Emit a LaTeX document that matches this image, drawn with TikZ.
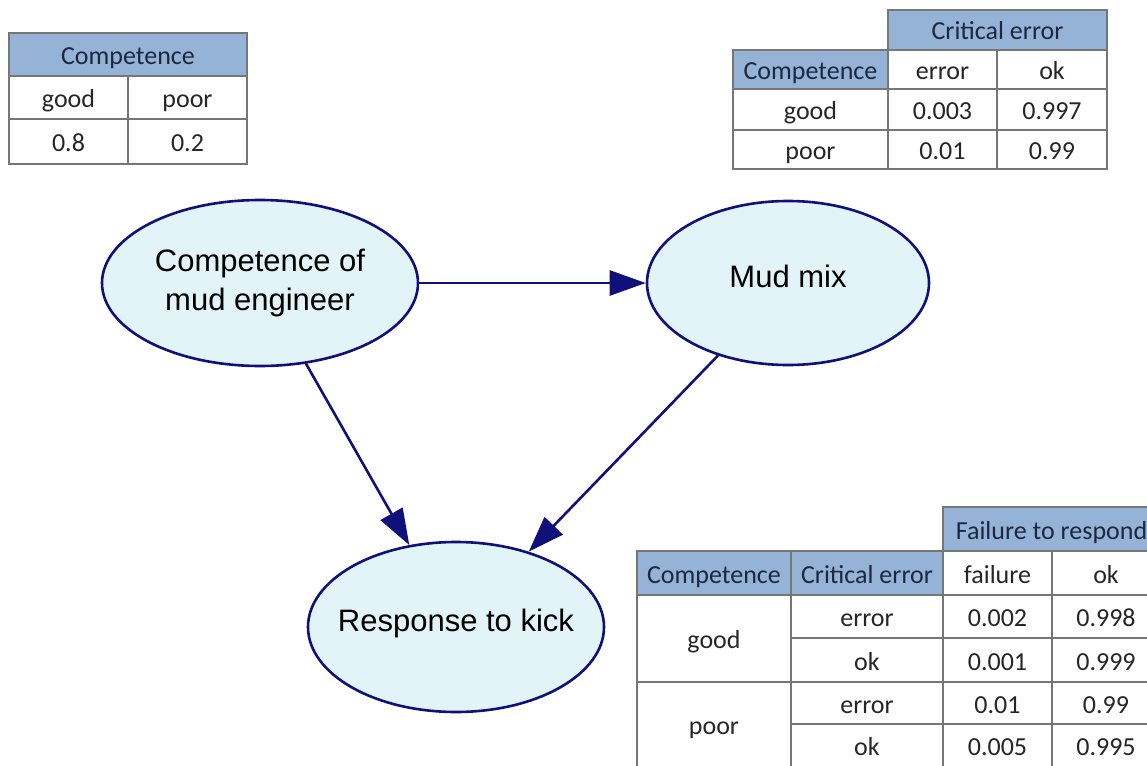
\documentclass[tikz,border=0pt]{standalone}
\usepackage{fontspec}
\setmainfont{Carlito}
\newfontfamily\bnfont{Liberation Sans}
\usetikzlibrary{shapes.geometric,arrows.meta,positioning}
\definecolor{cptheadfill}{HTML}{95B3D7}
\definecolor{cptline}{HTML}{767676}
\definecolor{cpttext}{HTML}{262626}
\definecolor{cptheadtext}{HTML}{1C2740}
\definecolor{bnfill}{HTML}{E2F4F8}
\definecolor{bnnavy}{HTML}{10107A}
\tikzset{
  cptcell/.style = {draw=cptline, line width=1.3pt, inner sep=0pt, text=cpttext,
                    text height=22pt, text depth=2pt,
                    font=\fontsize{26}{30}\selectfont},
  cpthead/.style = {cptcell, fill=cptheadfill, text=cptheadtext},
  bnnode/.style  = {ellipse, draw=bnnavy, line width=2.6pt, fill=bnfill, inner sep=0pt,
                    align=center, text=black, font=\bnfont\fontsize{31}{39}\selectfont},
  bnedge/.style  = {bnnavy, line width=2.6pt, -{Triangle[length=36pt,width=25pt]}},
}
% cell of a table: [style]{name}{x0}{y0}{x1}{y1}{text}
\newcommand{\cptbox}[7][cptcell]{%
  \node[#1, minimum width={(#5-#3)*1pt}, minimum height={(#6-#4)*1pt}]
    (#2) at ({(#3+#5)/2},{(#4+#6)/2}) {#7};}

\begin{document}
\begin{tikzpicture}[x=1pt,y=-1pt]
  \clip (0,0) rectangle (1147,765);
  \fill[white] (0,0) rectangle (1147,765);

  % prior of competence
  \cptbox[cpthead]{cA}{9}{33}{247}{76}{Competence}
  \cptbox{cAgood}{9}{76}{128}{119}{good}
  \cptbox{cApoor}{128}{76}{247}{119}{poor}
  \cptbox{cAvg}{9}{119}{128}{164}{0.8}
  \cptbox{cAvp}{128}{119}{247}{164}{0.2}

  % critical error given competence
  \cptbox[cpthead]{ceHead}{888}{10}{1107}{50}{Critical error}
  \cptbox[cpthead]{ceComp}{733}{50}{888}{89}{Competence}
  \cptbox{ceErr}{888}{50}{997}{89}{error}
  \cptbox{ceOk}{997}{50}{1107}{89}{ok}
  \cptbox{ceGood}{733}{89}{888}{130}{good}
  \cptbox{ceGe}{888}{89}{997}{130}{0.003}
  \cptbox{ceGo}{997}{89}{1107}{130}{0.997}
  \cptbox{cePoor}{733}{130}{888}{169}{poor}
  \cptbox{cePe}{888}{130}{997}{169}{0.01}
  \cptbox{cePo}{997}{130}{1107}{169}{0.99}

  % failure to respond
  \cptbox[cpthead]{frHead}{943}{507}{1160}{551}{Failure to respond}
  \cptbox[cpthead]{frComp}{637}{551}{791}{595}{Competence}
  \cptbox[cpthead]{frCrit}{791}{551}{943}{595}{Critical error}
  \cptbox{frFail}{943}{551}{1052}{595}{failure}
  \cptbox{frOk}{1052}{551}{1160}{595}{ok}
  \cptbox{frGood}{637}{595}{791}{682}{good}
  \cptbox{frGE}{791}{595}{943}{638}{error}
  \cptbox{frGEf}{943}{595}{1052}{638}{0.002}
  \cptbox{frGEo}{1052}{595}{1160}{638}{0.998}
  \cptbox{frGO}{791}{638}{943}{682}{ok}
  \cptbox{frGOf}{943}{638}{1052}{682}{0.001}
  \cptbox{frGOo}{1052}{638}{1160}{682}{0.999}
  \cptbox{frPoor}{637}{682}{791}{767}{poor}
  \cptbox{frPE}{791}{682}{943}{724}{error}
  \cptbox{frPEf}{943}{682}{1052}{724}{0.01}
  \cptbox{frPEo}{1052}{682}{1160}{724}{0.99}
  \cptbox{frPO}{791}{724}{943}{767}{ok}
  \cptbox{frPOf}{943}{724}{1052}{767}{0.005}
  \cptbox{frPOo}{1052}{724}{1160}{767}{0.995}

  % network
  \node[bnnode, minimum width=316pt, minimum height=166pt] (comp) at (260,283)
    {Competence of\\mud engineer};
  \node[bnnode, minimum width=282pt, minimum height=164pt, text depth=14pt] (mud)
    at (788,283) {Mud mix};
  \node[bnnode, minimum width=296pt, minimum height=170pt, text depth=14pt] (resp)
    at (456,627) {\makebox[0pt]{Response to kick}};

  \path (comp) edge[bnedge] (mud);
  \path (comp) edge[bnedge] (resp);
  \path (mud) edge[bnedge] (resp);
\end{tikzpicture}
\end{document}
